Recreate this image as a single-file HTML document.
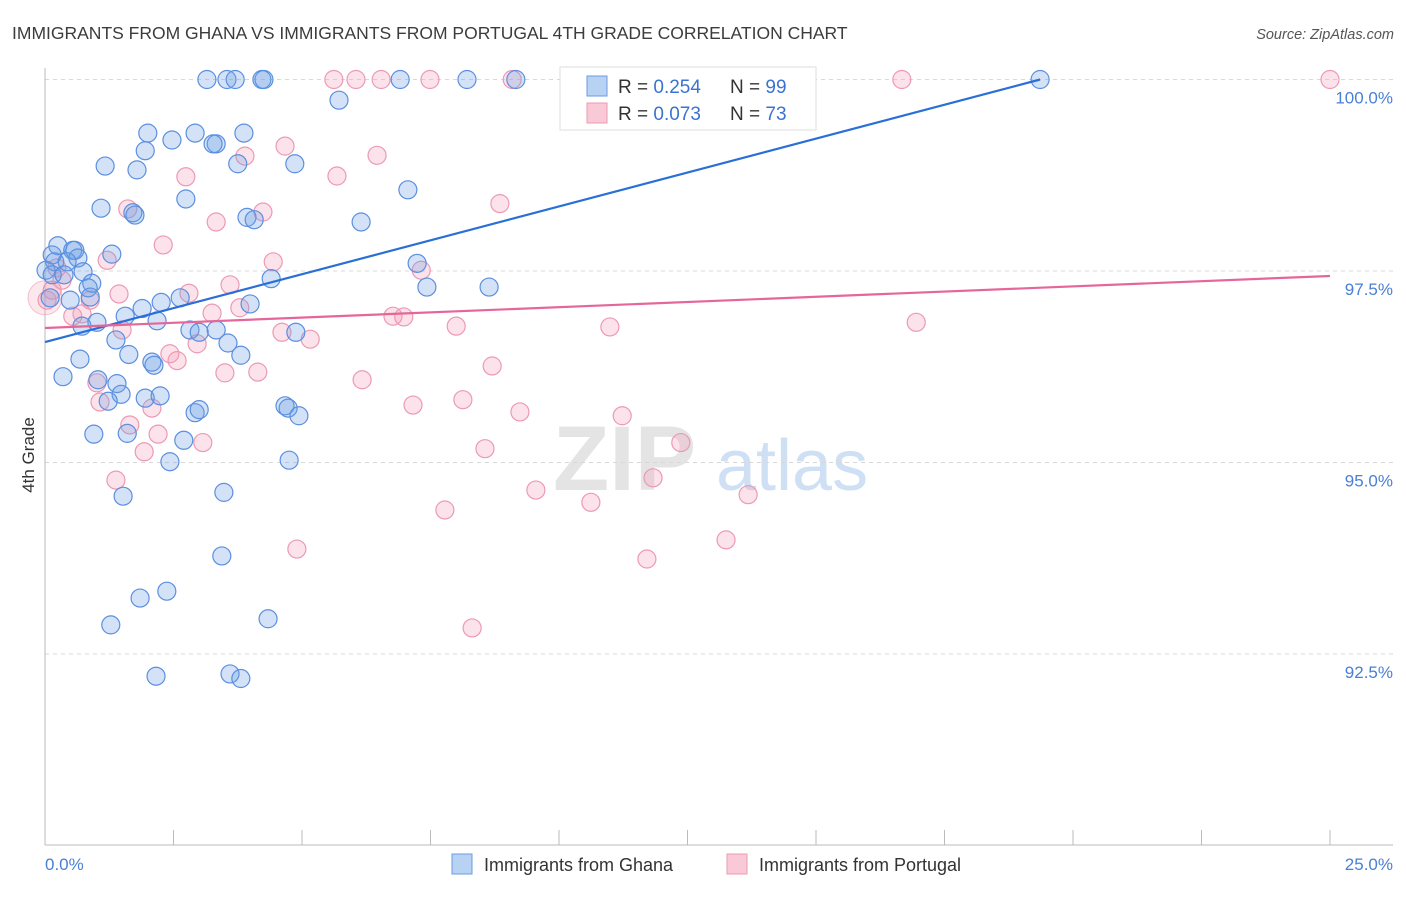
<!DOCTYPE html>
<html><head><meta charset="utf-8"><style>
body{margin:0;background:#fff;font-family:"Liberation Sans",sans-serif;}
svg text{font-family:"Liberation Sans",sans-serif;}
</style></head><body>
<svg id="chart" width="1406" height="892" xmlns="http://www.w3.org/2000/svg">
<text x="12" y="39" font-size="17.5" fill="#3c3c3c">IMMIGRANTS FROM GHANA VS IMMIGRANTS FROM PORTUGAL 4TH GRADE CORRELATION CHART</text>
<text x="1394" y="39" font-size="14.5" fill="#555" font-style="italic" text-anchor="end">Source: ZipAtlas.com</text>
<g>
<text x="553" y="490" font-size="92" fill="#e4e4e4" font-family="Liberation Serif" font-weight="bold">ZIP</text>
<text x="716" y="490" font-size="72" fill="#cfe0f4">atlas</text>
</g>
<g id="grid"></g><g id="axes"></g><g id="pts"></g><g id="trends"></g>
<text transform="translate(34,455) rotate(-90)" font-size="17" fill="#333" text-anchor="middle">4th Grade</text>
<g>
<rect x="560" y="67" width="256" height="63" fill="#fff" stroke="#ddd"/>
<rect x="587" y="76" width="20" height="20" fill="#b8d2f4" stroke="#6b9be0"/>
<rect x="587" y="103" width="20" height="20" fill="#f9c9d7" stroke="#ec9ab2"/>
<text x="618" y="93" font-size="19" fill="#333">R = <tspan fill="#3a73d0">0.254</tspan><tspan x="730">N = </tspan><tspan fill="#3a73d0">99</tspan></text>
<text x="618" y="120" font-size="19" fill="#333">R = <tspan fill="#3a73d0">0.073</tspan><tspan x="730">N = </tspan><tspan fill="#3a73d0">73</tspan></text>
</g>
<g>
<rect x="452" y="854" width="20" height="20" fill="#b8d2f4" stroke="#6b9be0"/>
<text x="484" y="871" font-size="18" fill="#333">Immigrants from Ghana</text>
<rect x="727" y="854" width="20" height="20" fill="#f9c9d7" stroke="#ec9ab2"/>
<text x="759" y="871" font-size="18" fill="#333">Immigrants from Portugal</text>
</g>
</svg>
<script>
const yTicks=[100,97.5,95,92.5];
const yTickLabels=["100.0%","97.5%","95.0%","92.5%"];
const xTickLabels=["0.0%","25.0%"];
const ghanaX=[3.15,3.54,3.70,4.22,4.26,6.91,8.21,9.16,19.36,5.72,2.00,2.92,3.87,2.47,3.33,3.27,1.95,1.17,1.79,3.75,4.86,7.06,2.74,1.09,1.71,1.75,3.93,4.07,6.15,0.25,0.54,0.58,1.30,0.64,0.14,0.19,0.43,0.02,0.74,0.14,0.37,0.91,0.84,4.40,7.24,7.43,8.64,0.10,0.49,0.88,1.89,2.63,3.99,2.26,1.56,1.01,0.72,2.18,2.82,3.00,3.33,4.88,1.38,3.56,1.63,3.81,0.68,2.08,2.12,0.35,1.40,1.03,1.48,1.23,1.95,2.24,2.92,3.00,4.67,4.73,4.94,0.95,1.60,2.70,2.43,4.75,3.48,1.52,3.44,2.37,1.85,1.28,4.34,2.16,3.60,3.81];
const ghanaY=[100,100,100,100,100,100,100,100,100,99.73,99.30,99.30,99.30,99.21,99.16,99.16,99.07,98.87,98.82,98.90,98.90,98.56,98.44,98.32,98.26,98.23,98.20,98.17,98.14,97.83,97.77,97.77,97.72,97.67,97.71,97.62,97.62,97.51,97.49,97.45,97.45,97.34,97.28,97.40,97.60,97.29,97.29,97.15,97.12,97.16,97.01,97.15,97.07,97.09,96.91,96.83,96.78,96.85,96.73,96.70,96.73,96.70,96.60,96.56,96.41,96.40,96.35,96.31,96.27,96.12,96.03,96.08,95.89,95.80,95.84,95.87,95.65,95.69,95.74,95.71,95.61,95.37,95.38,95.29,95.01,95.03,94.61,94.56,93.78,93.32,93.23,92.88,92.96,92.21,92.24,92.18];
const portX=[5.62,6.05,6.54,7.49,9.09,13.91,16.67,25.0,4.67,6.46,3.89,5.68,2.74,8.85,1.61,4.24,3.33,2.30,1.21,4.44,7.32,0.23,0.33,0.04,1.44,2.80,3.60,0.14,0.88,1.50,3.25,3.79,0.54,0.72,6.77,6.98,8.00,10.99,16.95,4.61,5.16,2.96,2.43,2.57,8.70,3.50,4.14,6.17,1.01,1.07,2.08,1.65,2.20,7.16,8.13,9.24,11.23,3.07,1.93,8.56,12.37,1.38,9.55,11.83,13.68,10.62,7.78,13.25,4.90,11.71,8.31];
const portY=[100,100,100,100,100,100,100,100,99.13,99.01,99.00,98.74,98.73,98.38,98.31,98.27,98.14,97.84,97.64,97.62,97.51,97.54,97.38,97.12,97.20,97.21,97.32,97.25,97.12,96.73,96.95,97.02,96.91,96.94,96.91,96.90,96.78,96.77,96.83,96.70,96.61,96.55,96.42,96.33,96.26,96.17,96.18,96.08,96.04,95.79,95.71,95.49,95.37,95.75,95.82,95.66,95.61,95.26,95.14,95.18,95.26,94.77,94.64,94.80,94.58,94.48,94.38,93.99,93.87,93.74,92.84];
const ghanaTrend=[96.573,100.0];const ghanaTrendX=[0,19.36];
const portTrend=[96.756,97.435];const portTrendX=[0,25];
const NS="http://www.w3.org/2000/svg";
const X=v=>45+v/25*1285;
const Y=v=>79.5+(100-v)/2.5*191.5;
function mk(t,a,p){const e=document.createElementNS(NS,t);for(const k in a)e.setAttribute(k,a[k]);p.appendChild(e);return e;}
const grid=document.getElementById('grid'),axes=document.getElementById('axes'),pts=document.getElementById('pts'),tr=document.getElementById('trends');
yTicks.forEach((t,i)=>{
 const l=mk('line',{x1:45,x2:1393,y1:Y(t),y2:Y(t),stroke:'#d8d8d8','stroke-dasharray':'4,4'},grid);
 
 
 const tx=mk('text',{x:1393,y:Y(t)+24,'text-anchor':'end','font-size':17,fill:'#4a7fd6'},axes);
 tx.textContent=yTickLabels[i];
 
 
});
const ya=mk('line',{x1:45,x2:45,y1:68,y2:845,stroke:'#bbb'},axes);


const xa=mk('line',{x1:45,x2:1393,y1:845,y2:845,stroke:'#bbb'},axes);


for(let i=0;i<=10;i++){const v=i*2.5;
 const tk=mk('line',{x1:X(v),x2:X(v),y1:830,y2:845,stroke:'#bbb'},axes);
 
 }
const xl0=mk('text',{x:45,y:870,'font-size':17,fill:'#4a7fd6'},axes);xl0.textContent=xTickLabels[0];


const xl1=mk('text',{x:1393,y:870,'font-size':17,fill:'#4a7fd6','text-anchor':'end'},axes);xl1.textContent=xTickLabels[1];


const big=mk('circle',{cx:X(0.0),cy:Y(97.15),r:17,fill:'rgba(245,160,185,0.25)',stroke:'rgba(236,154,178,0.6)'},pts);


portX.forEach((x,i)=>{const c=mk('circle',{cx:X(x),cy:Y(portY[i]),r:9,fill:'rgba(245,160,185,0.3)',stroke:'#ec9ab2','stroke-width':1.2},pts);
 
 });
ghanaX.forEach((x,i)=>{const c=mk('circle',{cx:X(x),cy:Y(ghanaY[i]),r:9,fill:'rgba(110,160,230,0.3)',stroke:'#5b8fe0','stroke-width':1.2},pts);
 
 });
const l1=mk('line',{x1:X(ghanaTrendX[0]),y1:Y(ghanaTrend[0]),x2:X(ghanaTrendX[1]),y2:Y(ghanaTrend[1]),stroke:'#2a6fd6','stroke-width':2.2},tr);


const l2=mk('line',{x1:X(portTrendX[0]),y1:Y(portTrend[0]),x2:X(portTrendX[1]),y2:Y(portTrend[1]),stroke:'#e5679a','stroke-width':2.2},tr);


</script>
</body></html>
